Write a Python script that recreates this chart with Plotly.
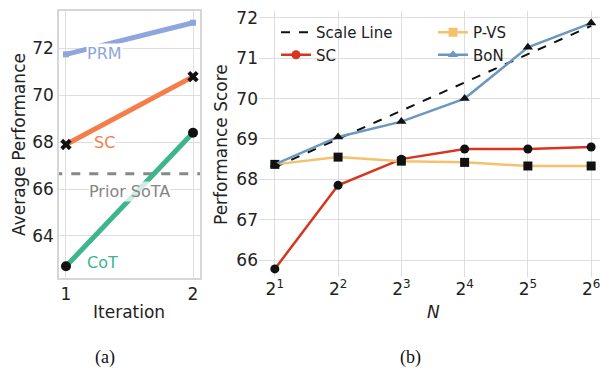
import plotly.graph_objects as go

# ---- Panel (a) data ----
iterations = [1, 2]
prm_a = [71.75, 73.1]
sc_a = [67.9, 70.8]
cot_a = [62.7, 68.4]
prior_sota = 66.65

# ---- Panel (b) data ----
n_exp = [1, 2, 3, 4, 5, 6]
n_labels = ["2<sup>1</sup>", "2<sup>2</sup>", "2<sup>3</sup>", "2<sup>4</sup>", "2<sup>5</sup>", "2<sup>6</sup>"]
scale_line = [68.3, 69.0, 69.7, 70.4, 71.1, 71.8]
sc_b = [65.78, 67.85, 68.5, 68.75, 68.75, 68.8]
pvs_b = [68.37, 68.55, 68.45, 68.42, 68.33, 68.33]
bon_b = [68.37, 69.05, 69.43, 70.0, 71.27, 71.87]

C_PRM = "#8ea5dd"
C_SCA = "#f47d4a"
C_COT = "#3db58e"
C_SCB = "#d93420"
C_PVS = "#f4c16c"
C_BON = "#6b98c0"
FONT = "DejaVu Sans"

fig = go.Figure()

# Panel (a)
fig.add_trace(go.Scatter(x=[0.9, 2.1], y=[prior_sota, prior_sota], mode="lines",
                         line=dict(color="#888888", width=3, dash="dash"),
                         xaxis="x", yaxis="y", showlegend=False, hoverinfo="skip"))
fig.add_trace(go.Scatter(x=iterations, y=prm_a, mode="lines+markers",
                         line=dict(color=C_PRM, width=5),
                         marker=dict(symbol="square", size=6, color=C_PRM),
                         xaxis="x", yaxis="y", showlegend=False))
fig.add_trace(go.Scatter(x=iterations, y=sc_a, mode="lines+markers",
                         line=dict(color=C_SCA, width=5),
                         marker=dict(symbol="x", size=10, color="#111111"),
                         xaxis="x", yaxis="y", showlegend=False))
fig.add_trace(go.Scatter(x=iterations, y=cot_a, mode="lines+markers",
                         line=dict(color=C_COT, width=5),
                         marker=dict(symbol="circle", size=10, color="#111111"),
                         xaxis="x", yaxis="y", showlegend=False))

# Panel (b)
fig.add_trace(go.Scatter(x=n_exp, y=scale_line, mode="lines", name="Scale Line",
                         line=dict(color="#111111", width=2, dash="dash"),
                         xaxis="x2", yaxis="y2", legend="legend"))
series = [("SC", sc_b, C_SCB, "circle", "legend"),
          ("P-VS", pvs_b, C_PVS, "square", "legend2"),
          ("BoN", bon_b, C_BON, "triangle-up", "legend2")]
for name, vals, col, sym, lg in series:
    fig.add_trace(go.Scatter(x=n_exp, y=vals, mode="lines+markers", name=name,
                             line=dict(color=col, width=2.5),
                             marker=dict(symbol=sym, size=9, color="#111111"),
                             xaxis="x2", yaxis="y2", showlegend=False))
    fig.add_trace(go.Scatter(x=[None], y=[None], mode="lines+markers", name=name,
                             line=dict(color=col, width=2.5),
                             marker=dict(symbol=sym, size=9, color=col),
                             xaxis="x2", yaxis="y2", legend=lg))

grid = "#dedede"
fig.update_layout(
    width=600, height=368,
    margin=dict(l=0, r=0, t=0, b=0),
    paper_bgcolor="white", plot_bgcolor="white",
    font=dict(family=FONT, size=17, color="#222222"),
    xaxis=dict(domain=[59/600, 200/600], range=[0.945, 2.055], tickvals=[1, 2],
               showgrid=True, gridcolor=grid, zeroline=False, automargin=False,
               showline=True, linecolor="#d6d6d6", mirror=True, linewidth=1.5,
               ticks="", tickfont=dict(size=17)),
    yaxis=dict(domain=[(368-278)/368, (368-11)/368], range=[62.2, 73.6],
               tickvals=[64, 66, 68, 70, 72], showgrid=True, gridcolor=grid,
               zeroline=False, showline=True, linecolor="#d6d6d6", mirror=True,
               linewidth=1.5, ticks="", tickfont=dict(size=17), automargin=False),
    xaxis2=dict(domain=[259/600, 1.0], range=[0.75, 6.14], tickvals=n_exp,
                ticktext=n_labels, showgrid=True, gridcolor=grid, zeroline=False,
                showline=False, ticks="", tickfont=dict(size=17), anchor="y2",
                automargin=False, ticklabeloverflow="allow"),
    yaxis2=dict(domain=[(368-277)/368, (368-11)/368], range=[65.58, 72.17],
                tickvals=[66, 67, 68, 69, 70, 71, 72], showgrid=True, gridcolor=grid,
                zeroline=False, showline=False, ticks="", tickfont=dict(size=17),
                anchor="x2", automargin=False),
    legend=dict(x=276/600, y=(368-16)/368, xanchor="left", yanchor="top",
                bgcolor="rgba(0,0,0,0)", font=dict(size=15, family=FONT)),
    legend2=dict(x=433/600, y=(368-16)/368, xanchor="left", yanchor="top",
                 bgcolor="rgba(0,0,0,0)", font=dict(size=15, family=FONT)),
)

# In-plot labels for panel (a)
labels_a = [("PRM", 1.30, 71.8, C_PRM, "white"),
            ("SC", 1.30, 68.0, C_SCA, "white"),
            ("CoT", 1.29, 62.85, C_COT, "rgba(255,255,255,0)"),
            ("Prior SoTA", 1.50, 65.9, "#858585", "rgba(255,255,255,0.75)")]
for t, x, y, c, bg in labels_a:
    fig.add_annotation(x=x, y=y, xref="x", yref="y", text=t, showarrow=False,
                       font=dict(size=16, color=c, family=FONT), bgcolor=bg,
                       borderpad=0)

def paper_text(x, y, text, size=17, family=FONT, angle=0, color="#222222"):
    fig.add_annotation(x=x/600, y=(368-y)/368, xref="paper", yref="paper",
                       xanchor="center", yanchor="middle", text=text,
                       textangle=angle, showarrow=False,
                       font=dict(size=size, family=family, color=color))

# Axis titles
paper_text(19, 145, "Average Performance", angle=-90)
paper_text(221, 145, "Performance Score", angle=-90)
paper_text(129, 312, "Iteration")
paper_text(433, 312, "<i>N</i>")
# Sub-captions
paper_text(105, 357, "(a)", size=18, family="Liberation Serif", color="#111111")
paper_text(410, 357, "(b)", size=18, family="Liberation Serif", color="#111111")

fig.write_html("out.html", config={"displayModeBar": False},
               post_script="document.body.style.margin='0';document.body.style.overflow='hidden';")
